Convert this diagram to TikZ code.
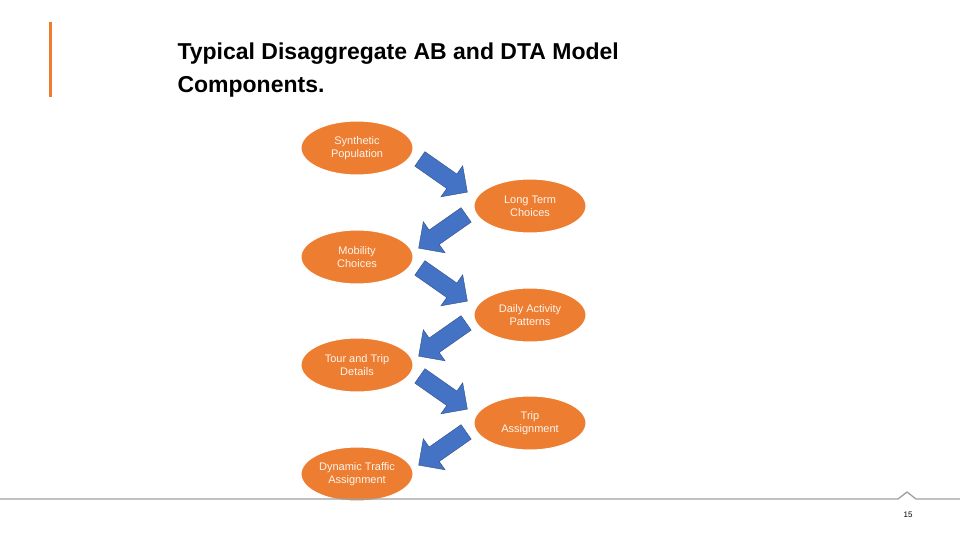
\documentclass[tikz,border=0pt]{standalone}
\usepackage{fontspec}
\setmainfont{Liberation Sans}
\usetikzlibrary{shapes.arrows,shapes.geometric}
\definecolor{org}{HTML}{ED7D31}
\definecolor{blu}{HTML}{4472C4}
\definecolor{gry}{HTML}{A0A0A0}
\begin{document}
\begin{tikzpicture}[x=1pt,y=-1pt,
  oval/.style={ellipse,fill=org,draw=white,line width=1pt,minimum width=112pt,minimum height=54pt,align=center,text=white!92!org,font=\fontsize{11}{13}\selectfont,inner sep=0pt},
  barrow/.style={single arrow,fill=blu,draw=blu!70!black,line width=0.4pt,minimum width=38pt,single arrow head extend=6pt,single arrow head indent=0pt,minimum height=58pt,inner sep=5pt}]
\useasboundingbox (0,0) rectangle (960,540);
\fill[white] (0,0) rectangle (960,540);
\fill[org] (48.5,22) rectangle (52,97);
\node[anchor=base west,font=\bfseries\fontsize{23}{27}\selectfont,align=left] (title) at (174,60) {Typical Disaggregate AB and DTA Model};
\node[anchor=base west,font=\bfseries\fontsize{23}{27}\selectfont] (title2) at (174,93) {Components.};
\node[oval] (a) at (357,148) {Synthetic\\Population};
\node[oval] (b) at (530,206) {Long Term\\Choices};
\node[oval] (c) at (357,257) {Mobility\\Choices};
\node[oval] (d) at (530,315) {Daily Activity\\Patterns};
\node[oval] (e) at (357,365) {Tour and Trip\\Details};
\node[oval] (f) at (530,423) {Trip\\Assignment};
\node[oval] (g) at (357,474) {Dynamic Traffic\\Assignment};
\node[barrow,rotate=-35] (r1) at (440,173) {};
\node[barrow,rotate=-145] (r2) at (446,229) {};
\node[barrow,rotate=-35] (r3) at (440,282) {};
\node[barrow,rotate=-145] (r4) at (446,337) {};
\node[barrow,rotate=-35] (r5) at (440,390) {};
\node[barrow,rotate=-145] (r6) at (446,446) {};
\draw[gry,line width=1.3pt] (0,499) -- (898,499) -- (907,492) -- (916,499) -- (960,499);
\node[font=\fontsize{8}{9}\selectfont] (pg) at (908,515) {15};
\end{tikzpicture}
\end{document}
